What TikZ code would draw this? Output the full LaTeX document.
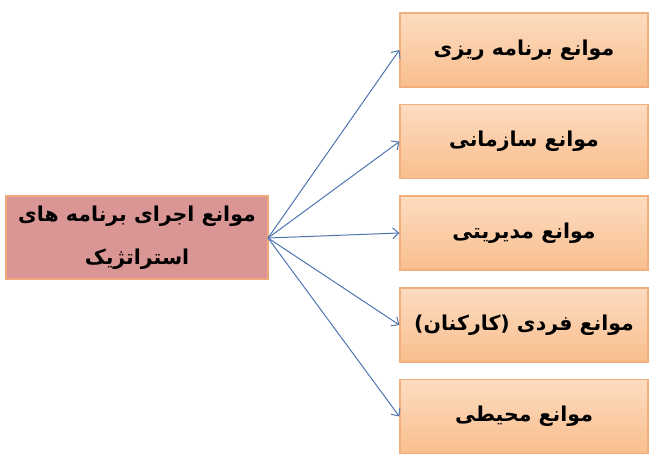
\documentclass[tikz,border=0pt]{standalone}
\usepackage{fontspec}
\usetikzlibrary{arrows.meta}
\TeXXeTstate=1
\newfontfamily\arabicfont[Script=Arabic]{DejaVu Sans}
\definecolor{leftfill}{HTML}{D99694}
\definecolor{leftdraw}{HTML}{F0A878}
\definecolor{boxtop}{HTML}{FDDCC0}
\definecolor{boxbot}{HTML}{F9BE8E}
\definecolor{boxdraw}{HTML}{F2AE7C}
\definecolor{arrowblue}{HTML}{4F74B0}
\begin{document}
\begin{tikzpicture}[x=1pt,y=-1pt,
  mainbox/.style={draw=leftdraw,line width=1.5pt,fill=leftfill,minimum width=262pt,minimum height=83pt,inner sep=0pt,align=center,font=\arabicfont\bfseries\fontsize{20.5}{43}\selectfont},
  sidebox/.style={draw=boxdraw,line width=1.2pt,top color=boxtop,bottom color=boxbot,minimum width=248pt,minimum height=74pt,inner sep=0pt,font=\arabicfont\bfseries\fontsize{20.5}{24}\selectfont},
  link/.style={draw=arrowblue,line width=1pt,-{Straight Barb[length=6pt,width=11pt,line width=1pt]}}]
\useasboundingbox (0,0) rectangle (659,464);
\node[mainbox] (m) at (137,237.5) {\beginR موانع اجرای برنامه های\endR\\\beginR استراتژیک\endR};
\node[sidebox] (b1) at (524,50) {\beginR موانع برنامه ریزی\endR};
\node[sidebox] (b2) at (524,141.5) {\beginR موانع سازمانی\endR};
\node[sidebox] (b3) at (524,233) {\beginR موانع مدیریتی\endR};
\node[sidebox] (b4) at (524,325) {\beginR موانع فردی (کارکنان)\endR};
\node[sidebox] (b5) at (524,416.5) {\beginR موانع محیطی\endR};
\coordinate (o) at (268,238);
\foreach \b in {b1,b2,b3,b4,b5} \draw[link] (o) -- (\b.west);
\end{tikzpicture}
\end{document}
